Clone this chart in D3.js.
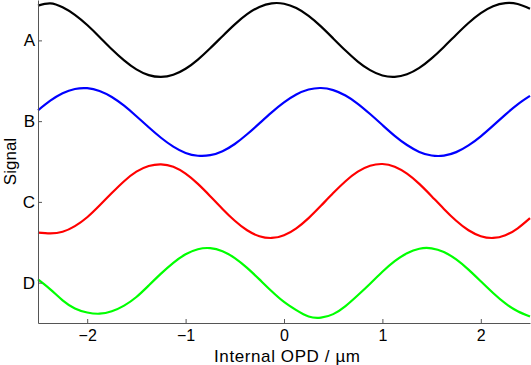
<!DOCTYPE html>
<html>
<head>
<meta charset="utf-8">
<script src="https://cdn.jsdelivr.net/npm/d3@7"></script>
<style>
  body { margin: 0; background: #fff; }
  svg { display: block; font-family: "Liberation Sans", Arial, sans-serif; }
</style>
</head>
<body>
<svg id="chart" width="531" height="365"></svg>
<script>
// OPD sample positions, -2.5 .. 2.5 in steps of 0.125 um
var opd = [-2.5, -2.375, -2.25, -2.125, -2, -1.875, -1.75, -1.625, -1.5, -1.375,
  -1.25, -1.125, -1, -0.875, -0.75, -0.625, -0.5, -0.375, -0.25, -0.125,
  0, 0.125, 0.25, 0.375, 0.5, 0.625, 0.75, 0.875, 1, 1.125,
  1.25, 1.375, 1.5, 1.625, 1.75, 1.875, 2, 2.125, 2.25, 2.375, 2.5];

var seriesNames = ['A', 'B', 'C', 'D'];
var seriesColors = ['#000000', '#0000ff', '#ff0000', '#00ff00'];
var tickLabels = ['A', 'B', 'C', 'D'];
var tickValues = [3.5, 2.5, 1.5, 0.5];
var xTicks = [-2, -1, 0, 1, 2];

var signalA = [3.93, 3.958, 3.909, 3.816, 3.690, 3.543, 3.391, 3.253, 3.141, 3.070,
  3.047, 3.074, 3.148, 3.262, 3.402, 3.552, 3.698, 3.824, 3.914, 3.959,
  3.954, 3.900, 3.803, 3.673, 3.524, 3.374, 3.238, 3.131, 3.065, 3.048,
  3.080, 3.159, 3.277, 3.419, 3.570, 3.715, 3.837, 3.922, 3.961, 3.950, 3.891];

var signalB = [2.634, 2.753, 2.845, 2.898, 2.908, 2.874, 2.799, 2.691, 2.561, 2.424,
  2.294, 2.184, 2.106, 2.071, 2.078, 2.128, 2.217, 2.337, 2.472, 2.608,
  2.731, 2.829, 2.891, 2.910, 2.884, 2.817, 2.715, 2.588, 2.452, 2.318,
  2.204, 2.119, 2.074, 2.073, 2.116, 2.199, 2.312, 2.444, 2.581, 2.708, 2.812];

var signalC = [1.12, 1.11, 1.13, 1.20, 1.31, 1.455, 1.609, 1.756, 1.874, 1.944,
  1.965, 1.935, 1.849, 1.723, 1.571, 1.413, 1.266, 1.148, 1.075, 1.053,
  1.087, 1.173, 1.299, 1.451, 1.609, 1.756, 1.874, 1.947, 1.969, 1.935,
  1.849, 1.723, 1.571, 1.413, 1.266, 1.148, 1.075, 1.053, 1.087, 1.173, 1.299];

var signalD = [0.540, 0.417, 0.281, 0.180, 0.130, 0.115, 0.145, 0.215, 0.322, 0.464,
  0.611, 0.745, 0.851, 0.914, 0.927, 0.889, 0.804, 0.683, 0.540, 0.393,
  0.261, 0.159, 0.080, 0.066, 0.110, 0.210, 0.344, 0.487, 0.634, 0.765,
  0.864, 0.920, 0.925, 0.879, 0.787, 0.661, 0.516, 0.371, 0.242, 0.146, 0.080];

var signals = [signalA, signalB, signalC, signalD];

var svg = d3.select('#chart'),
  width = +svg.attr('width'),
  height = +svg.attr('height');

var margin = { top: 0, right: 1, bottom: 42, left: 38 };
var innerW = width - margin.left - margin.right,
  innerH = height - margin.top - margin.bottom;

var x = d3.scaleLinear().domain([-2.5, 2.5]).range([0, innerW]);
var y = d3.scaleLinear().domain([0, 4]).range([innerH, 0]);

var g = svg.append('g')
  .attr('transform', 'translate(' + margin.left + ',' + margin.top + ')');

var line = d3.line()
  .x(function (d) { return x(d[0]); })
  .y(function (d) { return y(d[1]); })
  .curve(d3.curveNatural);

signals.forEach(function (vals, k) {
  g.append('path')
    .datum(opd.map(function (o, i) { return [o, vals[i]]; }))
    .attr('fill', 'none')
    .attr('stroke', seriesColors[k])
    .attr('stroke-width', 2.2)
    .attr('stroke-linejoin', 'round')
    .attr('d', line)
    .attr('class', 'series-' + seriesNames[k]);
});

// axes, ticks pointing inward
var xAxis = g.append('g')
  .attr('transform', 'translate(0,' + innerH + ')')
  .call(d3.axisBottom(x).tickValues(xTicks).tickFormat(d3.format('d'))
    .tickSizeInner(-4).tickSizeOuter(0).tickPadding(7));

var yAxis = g.append('g')
  .call(d3.axisLeft(y).tickValues(tickValues)
    .tickFormat(function (d, i) { return tickLabels[i]; })
    .tickSizeInner(-4).tickSizeOuter(0).tickPadding(3));

[xAxis, yAxis].forEach(function (ax) {
  ax.select('.domain').attr('stroke', '#555').attr('stroke-width', 1);
  ax.selectAll('.tick line').attr('stroke', '#555');
  ax.selectAll('.tick text')
    .attr('fill', '#000')
    .style('font-family', '"Liberation Sans", Arial, sans-serif');
});
xAxis.selectAll('.tick text').style('font-size', '16px');
yAxis.selectAll('.tick text').style('font-size', '17px');

svg.append('text')
  .attr('x', margin.left + x(0) + 3)
  .attr('y', 362)
  .attr('text-anchor', 'middle')
  .attr('textLength', 146)
  .style('font-size', '17px')
  .text('Internal OPD / \u00b5m');

svg.append('text')
  .attr('transform', 'translate(16,' + (margin.top + innerH / 2) + ') rotate(-90)')
  .attr('text-anchor', 'middle')
  .style('font-size', '17px')
  .text('Signal');
</script>
</body>
</html>
